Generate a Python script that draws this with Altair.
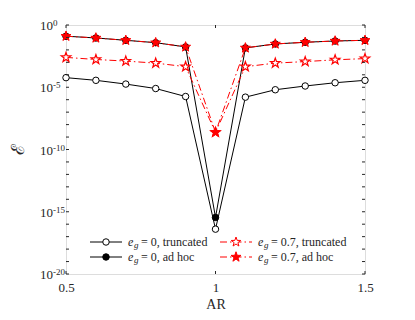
import math
import altair as alt
import pandas as pd

# ---------------- data ----------------
AR = [0.5, 0.6, 0.7, 0.8, 0.9, 1.0, 1.1, 1.2, 1.3, 1.4, 1.5]
eg0_trunc = [5.9e-5, 3.6e-5, 1.8e-5, 7.9e-6, 1.8e-6, 4.0e-17, 1.6e-6, 6.3e-6, 1.26e-5, 2.3e-5, 3.6e-5]
eg0_adhoc = [0.126, 0.091, 0.059, 0.038, 0.0174, 3.5e-16, 0.0145, 0.030, 0.041, 0.052, 0.059]
eg07_trunc = [2.5e-3, 1.7e-3, 1.26e-3, 8.7e-4, 4.5e-4, 2.4e-9, 4.5e-4, 8.7e-4, 1.15e-3, 1.6e-3, 2.0e-3]
eg07_adhoc = [0.126, 0.091, 0.059, 0.038, 0.0174, 2.4e-9, 0.0145, 0.030, 0.041, 0.052, 0.059]

x_ticks = [0.5, 1.0, 1.5]
y_ticks = [1e-20, 1e-19, 1e-18, 1e-17, 1e-16, 1e-15, 1e-14, 1e-13, 1e-12, 1e-11, 1e-10,
           1e-9, 1e-8, 1e-7, 1e-6, 1e-5, 1e-4, 1e-3, 1e-2, 1e-1, 1.0]
y_label_vals = [1.0, 1e-5, 1e-10, 1e-15, 1e-20]
y_label_exps = ["0", "-5", "-10", "-15", "-20"]

series = {
    "eg0_trunc": eg0_trunc,
    "eg0_adhoc": eg0_adhoc,
    "eg07_trunc": eg07_trunc,
    "eg07_adhoc": eg07_adhoc,
}
rows = []
for name, vals in series.items():
    for a, v in zip(AR, vals):
        rows.append({"AR": a, "val": v, "series": name})
df = pd.DataFrame(rows)

# ---------------- styling ----------------
W, H = 299, 249
SERIF = "Liberation Serif"
AXC = "#262626"
RED = "#ff0000"
DASHDOT = [7, 3, 1.5, 3]

pts = []
for i in range(10):
    r = 1.0 if i % 2 == 0 else 0.40
    a = -math.pi / 2 + i * math.pi / 5
    pts.append(f"{r*math.cos(a):.3f},{r*math.sin(a):.3f}")
STAR = "M" + "L".join(pts) + "Z"

xs = alt.Scale(domain=[0.5, 1.5], nice=False, zero=False)
ys = alt.Scale(type="log", domain=[1e-20, 1], nice=False)

xaxis = alt.Axis(values=x_ticks, ticks=False, domain=False, grid=False, format="~g",
                 labelFont=SERIF, labelFontSize=13, labelColor=AXC, labelPadding=7,
                 labelFlush=False, title="AR", titleFont=SERIF, titleFontSize=14,
                 titleFontWeight="normal", titleColor=AXC, titlePadding=3)


def X():
    return alt.X("AR:Q", scale=xs, axis=xaxis)


def Y():
    return alt.Y("val:Q", scale=ys, axis=None)


def sel(name):
    return alt.Chart(df).transform_filter(alt.datum.series == name)


layers = []
# black lines + markers
layers.append(sel("eg0_trunc").mark_line(color="black", strokeWidth=1).encode(x=X(), y=Y()))
layers.append(sel("eg0_adhoc").mark_line(color="black", strokeWidth=1).encode(x=X(), y=Y()))
layers.append(sel("eg0_trunc").mark_point(shape="circle", size=42, filled=True, fill="white",
                                          stroke="black", strokeWidth=1, opacity=1).encode(x=X(), y=Y()))
layers.append(sel("eg0_adhoc").mark_point(shape="circle", size=42, filled=True, fill="black",
                                          stroke="black", strokeWidth=1, opacity=1).encode(x=X(), y=Y()))
# red lines + markers
layers.append(sel("eg07_trunc").mark_line(color=RED, strokeWidth=1, strokeDash=DASHDOT).encode(x=X(), y=Y()))
layers.append(sel("eg07_adhoc").mark_line(color=RED, strokeWidth=1, strokeDash=DASHDOT).encode(x=X(), y=Y()))
layers.append(sel("eg07_trunc").mark_point(shape=STAR, size=100, filled=True, fill="white",
                                           stroke=RED, strokeWidth=1.2, opacity=1).encode(x=X(), y=Y()))
layers.append(sel("eg07_adhoc").mark_point(shape=STAR, size=110, filled=True, fill=RED,
                                           stroke=RED, strokeWidth=1, opacity=1).encode(x=X(), y=Y()))

# inward ticks
ydf = pd.DataFrame({"val": y_ticks})
layers.append(alt.Chart(ydf).mark_rule(color=AXC, strokeWidth=1).encode(
    y=Y(), x=alt.value(0), x2=alt.value(3)))
layers.append(alt.Chart(ydf).mark_rule(color=AXC, strokeWidth=1).encode(
    y=Y(), x=alt.value(W - 3), x2=alt.value(W)))
xdf = pd.DataFrame({"AR": x_ticks})
layers.append(alt.Chart(xdf).mark_rule(color=AXC, strokeWidth=1).encode(
    x=X(), y=alt.value(H - 3), y2=alt.value(H)))
layers.append(alt.Chart(xdf).mark_rule(color=AXC, strokeWidth=1).encode(
    x=X(), y=alt.value(0), y2=alt.value(3)))

# y tick labels 10^n
ldf = pd.DataFrame({"val": y_label_vals, "exp": y_label_exps})
layers.append(alt.Chart(ldf).mark_text(font=SERIF, fontSize=13, color=AXC, align="right",
                                       baseline="alphabetic", dy=5).encode(
    y=Y(), x=alt.value(-13), text=alt.value("10")))
layers.append(alt.Chart(ldf).mark_text(font=SERIF, fontSize=9, color=AXC, align="left",
                                       baseline="alphabetic", dy=1).encode(
    y=Y(), x=alt.value(-13), text="exp:N"))

# y title
one = pd.DataFrame({"a": [0]})
layers.append(alt.Chart(one).mark_text(font=SERIF, fontSize=18, color=AXC, angle=270,
                                       align="center", baseline="middle").encode(
    x=alt.value(-47), y=alt.value(H / 2), text=alt.value("ℰ")))

# legend
def leg_entry(x0, y0, color, dash, shape, fill, size, label):
    out = []
    kw = dict(color=color, strokeWidth=1)
    if dash:
        kw["strokeDash"] = dash
    out.append(alt.Chart(one).mark_rule(**kw).encode(
        x=alt.value(x0), x2=alt.value(x0 + 32), y=alt.value(y0)))
    out.append(alt.Chart(one).mark_point(shape=shape, size=size, filled=True, fill=fill,
                                         stroke=color, strokeWidth=1, opacity=1).encode(
        x=alt.value(x0 + 16), y=alt.value(y0)))
    out.append(alt.Chart(one).mark_text(font=SERIF, fontSize=12, fontStyle="italic", color=AXC,
                                        align="left", baseline="middle").encode(
        x=alt.value(x0 + 38), y=alt.value(y0), text=alt.value("e")))
    out.append(alt.Chart(one).mark_text(font=SERIF, fontSize=9, fontStyle="italic", color=AXC,
                                        align="left", baseline="middle", dy=3).encode(
        x=alt.value(x0 + 44), y=alt.value(y0), text=alt.value("g")))
    out.append(alt.Chart(one).mark_text(font=SERIF, fontSize=12, color=AXC,
                                        align="left", baseline="middle").encode(
        x=alt.value(x0 + 51), y=alt.value(y0), text=alt.value(label)))
    return out

layers += leg_entry(24, 217, "black", None, "circle", "white", 42, "= 0, truncated")
layers += leg_entry(24, 232, "black", None, "circle", "black", 42, "= 0, ad hoc")
layers += leg_entry(154, 217, RED, DASHDOT, STAR, "white", 100, "= 0.7, truncated")
layers += leg_entry(154, 232, RED, DASHDOT, STAR, RED, 110, "= 0.7, ad hoc")

chart = alt.layer(*layers).properties(
    width=W, height=H, autosize="none",
    padding={"left": 58, "top": 17, "right": 30, "bottom": 36},
).configure_view(stroke=AXC, strokeWidth=1).configure(background="white")

chart.save("out.html", embed_options={"renderer": "svg", "actions": False})
